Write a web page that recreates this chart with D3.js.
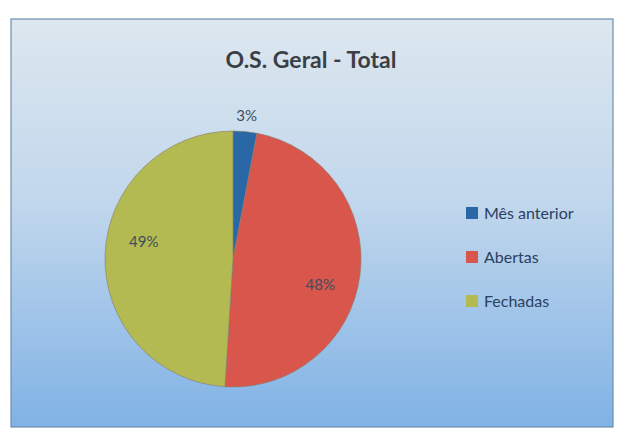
<!DOCTYPE html>
<html lang="pt">
<head>
	<meta charset="UTF-8">
	<title>O.S. Geral - Total</title>
	<script src="https://d3js.org/d3.v7.min.js"></script>
	<style>
		body {
			margin: 0;
			background: #fff;
		}
		svg {
			display: block;
			font-family: Lato, "Open Sans", sans-serif;
		}
		.title {
			font-size: 23px;
			font-weight: bold;
			fill: #3a3f44;
		}
		.pct {
			font-size: 15px;
			fill: #3d4f5c;
		}
		.legend text {
			font-size: 16px;
			fill: #2b405e;
		}
	</style>
</head>
<body>
<script>
	var categories = ['Mês anterior', 'Abertas', 'Fechadas'];
	var values = [3, 48, 49];
	var colors = ['#2a67a6', '#d9564c', '#b3ba52'];

	var width = 625, height = 433;

	var svg = d3.select('body').append('svg')
		.attr('width', width)
		.attr('height', height);

	var defs = svg.append('defs');
	var grad = defs.append('linearGradient')
		.attr('id', 'bg')
		.attr('x1', 0).attr('y1', 0)
		.attr('x2', 0).attr('y2', 1);
	grad.append('stop').attr('offset', '0%').attr('stop-color', '#dde7ef');
	grad.append('stop').attr('offset', '45%').attr('stop-color', '#c1d7ec');
	grad.append('stop').attr('offset', '100%').attr('stop-color', '#80b2e5');

	// chart frame
	svg.append('rect')
		.attr('x', 11)
		.attr('y', 19)
		.attr('width', 602)
		.attr('height', 408)
		.attr('fill', 'url(#bg)')
		.attr('stroke', '#6f8fae')
		.attr('stroke-width', 1.2);

	svg.append('text')
		.attr('class', 'title')
		.attr('x', 311)
		.attr('y', 68)
		.attr('text-anchor', 'middle')
		.text('O.S. Geral - Total');

	var cx = 233, cy = 259, r = 128;

	var pie = d3.pie().sort(null).value(function (d) { return d; });
	var arc = d3.arc().innerRadius(0).outerRadius(r);
	var labelR = r * 0.71;
	var labelShift = 9 * Math.PI / 180; // labels sit a little clockwise of the slice middle

	var g = svg.append('g')
		.attr('transform', 'translate(' + cx + ',' + cy + ')');

	var slices = pie(values);

	g.selectAll('path')
		.data(slices)
		.enter().append('path')
		.attr('d', arc)
		.attr('fill', function (d, i) { return colors[i]; })
		.attr('stroke', '#8a7a6a')
		.attr('stroke-width', 0.6);

	g.selectAll('text')
		.data(slices)
		.enter().append('text')
		.attr('class', 'pct')
		.attr('text-anchor', 'middle')
		.attr('dy', '0.35em')
		.attr('transform', function (d, i) {
			var a = (d.startAngle + d.endAngle) / 2;
			var rr = labelR;
			if (i === 0) {
				// small slice: label sits outside, above the pie
				rr = r + 16;
			} else {
				a += labelShift;
			}
			return 'translate(' + (Math.sin(a) * rr) + ',' + (-Math.cos(a) * rr) + ')';
		})
		.text(function (d) { return d.data + '%'; });

	var legend = svg.append('g')
		.attr('class', 'legend')
		.attr('transform', 'translate(466,213)');

	var rows = legend.selectAll('g')
		.data(categories)
		.enter().append('g')
		.attr('transform', function (d, i) { return 'translate(0,' + (i * 44) + ')'; });

	rows.append('rect')
		.attr('x', 0)
		.attr('y', -6)
		.attr('width', 12)
		.attr('height', 12)
		.attr('fill', function (d, i) { return colors[i]; });

	rows.append('text')
		.attr('x', 18)
		.attr('dy', '0.35em')
		.text(function (d) { return d; });
</script>
</body>
</html>
